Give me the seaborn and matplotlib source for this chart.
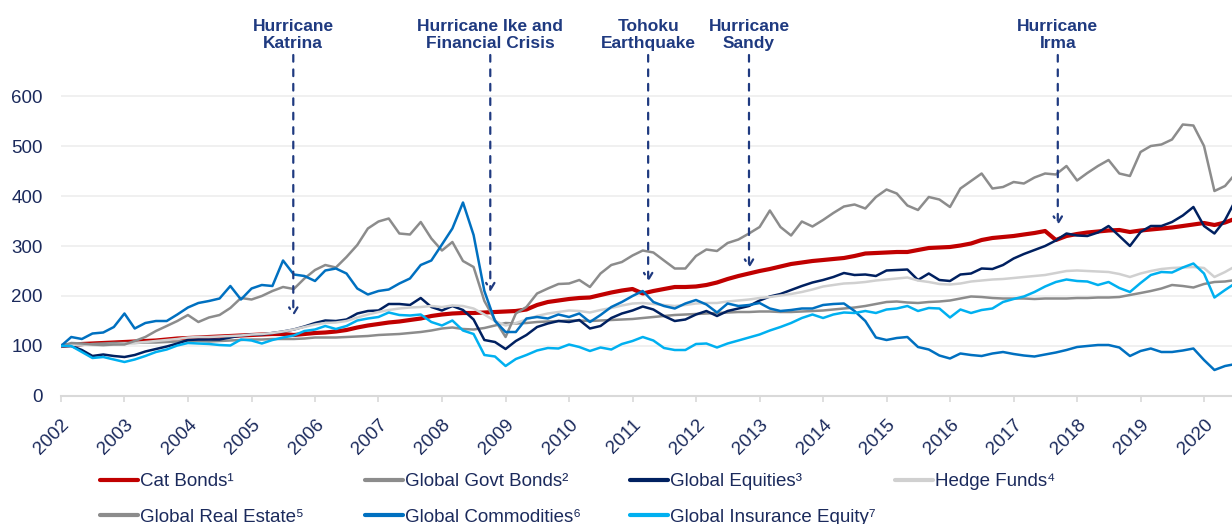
import pandas as pd
import matplotlib.pyplot as plt
import matplotlib.transforms as mtransforms
import seaborn as sns

# bi-monthly index levels, Jan 2002 = 100
dates = pd.date_range('2002-01-01', periods=112, freq='2MS')

cat_bonds = [100, 102, 104, 105, 106, 107, 108, 109, 110, 111, 113, 115,
             116, 117, 118, 119, 120, 121, 122, 123, 124, 124, 122, 124,
             126, 127, 129, 132, 137, 141, 144, 147, 149, 152, 155, 160,
             163, 165, 166, 166, 167, 168, 169, 170, 173, 182, 188, 191,
             194, 196, 197, 202, 207, 211, 214, 205, 210, 214, 218, 218,
             219, 222, 227, 234, 240, 245, 250, 254, 259, 264, 267, 270,
             272, 274, 276, 280, 285, 286, 287, 288, 288, 292, 296, 297,
             298, 301, 305, 312, 316, 318, 320, 323, 326, 330, 312, 320,
             324, 327, 329, 331, 332, 328, 331, 333, 335, 337, 340, 343,
             346, 342, 347, 355]

govt_bonds = [100, 101, 102, 104, 105, 106, 106, 106, 107, 107, 108, 109,
              110, 110, 109, 110, 111, 112, 113, 113, 114, 114, 114, 115,
              117, 117, 117, 118, 119, 120, 122, 123, 124, 126, 128, 131,
              135, 137, 134, 133, 136, 141, 146, 145, 146, 148, 149, 150,
              151, 151, 150, 151, 152, 153, 154, 156, 158, 160, 162, 163,
              164, 165, 166, 167, 168, 168, 169, 169, 168, 168, 169, 170,
              171, 173, 175, 177, 180, 184, 188, 189, 187, 186, 188, 189,
              191, 195, 199, 198, 196, 195, 195, 195, 194, 195, 195, 195,
              196, 196, 197, 197, 198, 202, 206, 210, 215, 222, 220, 217,
              224, 228, 229, 232]

equities = [100, 100, 92, 80, 83, 80, 78, 82, 89, 94, 99, 105,
            112, 113, 113, 113, 117, 121, 123, 123, 126, 129, 133, 139,
            146, 151, 150, 153, 165, 170, 171, 184, 184, 182, 196, 178,
            171, 180, 172, 153, 112, 108, 94, 110, 122, 138, 145, 150,
            148, 152, 135, 140, 156, 165, 171, 179, 173, 160, 150, 153,
            163, 170, 160, 170, 175, 180, 191, 199, 204, 212, 220, 227,
            232, 238, 246, 242, 243, 240, 251, 252, 253, 232, 245, 232,
            230, 243, 245, 255, 254, 262, 275, 284, 292, 300, 311, 325,
            321, 320, 327, 340, 320, 300, 328, 340, 340, 348, 361, 378,
            340, 325, 352, 392]

hedge_funds = [100, 102, 103, 102, 101, 103, 105, 106, 108, 110, 112, 114,
               117, 118, 118, 119, 120, 121, 123, 124, 126, 129, 133, 138,
               143, 146, 147, 150, 157, 163, 168, 172, 175, 177, 178, 180,
               178, 181, 180, 175, 163, 150, 141, 146, 153, 160, 165, 168,
               171, 170, 167, 172, 176, 181, 185, 186, 184, 182, 180, 182,
               185, 186, 186, 189, 191, 193, 196, 198, 201, 204, 208, 213,
               219, 222, 225, 226, 228, 231, 233, 235, 237, 231, 228, 224,
               223, 225, 229, 231, 233, 234, 236, 238, 240, 242, 246, 250,
               251, 250, 249, 248, 244, 238, 245, 250, 254, 256, 257, 258,
               256, 238, 248, 260]

real_estate = [100, 106, 105, 103, 102, 103, 103, 110, 118, 130, 140, 150,
               162, 148, 157, 162, 176, 196, 193, 200, 210, 218, 214, 235,
               252, 262, 257, 278, 302, 335, 349, 355, 325, 323, 348, 315,
               291, 308, 270, 258, 190, 152, 118, 165, 178, 205, 215, 224,
               225, 232, 218, 245, 262, 268, 281, 291, 287, 271, 255, 255,
               280, 293, 290, 306, 313, 325, 338, 371, 338, 321, 349, 339,
               352, 366, 379, 383, 375, 398, 413, 405, 381, 372, 398, 393,
               378, 415, 430, 445, 415, 418, 428, 425, 437, 445, 443, 460,
               431, 446, 460, 472, 445, 440, 488, 500, 503, 513, 543, 541,
               500, 410, 420, 445]

commodities = [100, 118, 114, 125, 127, 138, 165, 135, 146, 150, 150, 163,
               177, 186, 190, 195, 220, 193, 215, 222, 220, 271, 243, 240,
               230, 251, 255, 245, 215, 203, 210, 213, 225, 235, 262, 271,
               303, 335, 387, 322, 210, 150, 128, 128, 155, 158, 155, 163,
               158, 165, 148, 162, 178, 188, 200, 210, 188, 180, 175, 185,
               192, 183, 167, 185, 180, 182, 186, 175, 170, 172, 175, 175,
               182, 184, 185, 170, 150, 117, 112, 116, 118, 98, 93, 81,
               75, 85, 82, 80, 85, 88, 84, 81, 79, 83, 87, 92,
               98, 100, 102, 102, 97, 80, 90, 95, 88, 88, 91, 95,
               72, 52, 60, 64]

insurance_eq = [100, 100, 88, 76, 78, 73, 68, 73, 80, 88, 93, 101,
                106, 105, 104, 102, 101, 113, 111, 105, 112, 117, 121, 130,
                133, 140, 134, 140, 151, 155, 158, 167, 162, 161, 163, 148,
                141, 151, 131, 124, 82, 79, 60, 74, 82, 91, 96, 95,
                103, 98, 90, 97, 93, 104, 110, 118, 111, 96, 92, 92,
                104, 105, 97, 105, 111, 117, 123, 131, 138, 146, 156, 163,
                156, 163, 167, 166, 170, 166, 173, 175, 180, 170, 176, 175,
                157, 173, 166, 172, 175, 188, 194, 199, 208, 219, 228, 233,
                230, 229, 222, 228, 216, 208, 226, 242, 248, 247, 257, 265,
                245, 197, 212, 226]

series_names = ['Cat Bonds¹', 'Global Govt Bonds²', 'Global Equities³', 'Hedge Funds⁴',
                'Global Real Estate⁵', 'Global Commodities⁶', 'Global Insurance Equity⁷']
series_values = [cat_bonds, govt_bonds, equities, hedge_funds,
                 real_estate, commodities, insurance_eq]
series_colors = ['#C00000', '#8C8C8C', '#002060', '#D0D0D0',
                 '#8C8C8C', '#0070C0', '#00B0F0']
series_widths = [3.0, 1.8, 1.8, 1.8, 1.8, 1.8, 1.8]

event_labels = ['Hurricane\nKatrina', 'Hurricane Ike and\nFinancial Crisis',
                'Tohoku\nEarthquake', 'Hurricane\nSandy', 'Hurricane\nIrma']
event_dates = ['2005-08-29', '2008-10-05', '2011-04-01', '2012-11-01', '2017-09-12']
event_levels = [159, 208, 228, 255, 341]

year_ticks = list(range(2002, 2021))

navy = '#1B2A5C'
ann_color = '#1F3A80'

sns.set_style('white')
plt.rcParams['font.family'] = ['Liberation Sans', 'DejaVu Sans']

fig = plt.figure(figsize=(12.32, 5.24), dpi=100)
ax = fig.add_axes([61/1232, 1 - 396/524, 1 - 61/1232, 345/524])

handles = []
for name, vals, col, lw in zip(series_names, series_values, series_colors, series_widths):
    sns.lineplot(x=dates, y=vals, ax=ax, color=col, linewidth=lw, label=name, legend=False)
    handles.append(ax.lines[-1])

ax.set_ylim(0, 690)
ax.set_yticks(range(0, 601, 100))
ax.set_xlim(pd.Timestamp('2002-01-01'), pd.Timestamp('2020-06-10'))
ax.set_xticks([pd.Timestamp(f'{y}-01-01') for y in year_ticks])
ax.set_xticklabels([str(y) for y in year_ticks], rotation=45, ha='right',
                   va='top', rotation_mode='anchor')
ax.set_xlabel('')
ax.set_ylabel('')
ax.grid(axis='y', color='#EEEEEE', linewidth=1.2)
ax.set_axisbelow(True)
for side in ['left', 'right', 'top']:
    ax.spines[side].set_visible(False)
ax.spines['bottom'].set_color('#D9D9D9')
ax.spines['bottom'].set_linewidth(1.5)
ax.tick_params(axis='x', bottom=True, length=4.5, width=1.2, color='#D9D9D9',
               pad=10, labelsize=13.5, labelcolor=navy)
ax.tick_params(axis='y', left=False, length=0, pad=13, labelsize=13.5, labelcolor=navy)

# event markers
trans = mtransforms.blended_transform_factory(ax.transData, ax.transAxes)
for lab, d, lev in zip(event_labels, event_dates, event_levels):
    d = pd.Timestamp(d)
    ax.annotate('', xy=(d, lev), xytext=(d, 682),
                arrowprops=dict(arrowstyle='->,head_length=0.5,head_width=0.3',
                                color=ann_color, lw=1.6, linestyle=(0, (3, 3.5)),
                                shrinkA=0, shrinkB=0),
                annotation_clip=False)
    ax.text(d, 1.0, lab, transform=trans, ha='center', va='bottom',
            fontsize=12.5, fontweight='bold', color=ann_color, linespacing=1.15)

# legend laid out in fixed-width columns like the original
col_groups = [[0, 4], [1, 5], [2, 6], [3]]
col_x = [100/1232, 365/1232, 630/1232, 895/1232]
for grp, x0 in zip(col_groups, col_x):
    leg = fig.legend([handles[i] for i in grp], [series_names[i] for i in grp],
                     loc='upper left', bbox_to_anchor=(x0, 1 - 473/524),
                     frameon=False, fontsize=13.5, handlelength=2.0,
                     handletextpad=0.15, labelspacing=1.0, borderpad=0,
                     borderaxespad=0)
    for t in leg.get_texts():
        t.set_color(navy)
    for h in leg.legend_handles:
        h.set_linewidth(3.0)

fig.savefig('out.png', dpi=100)
